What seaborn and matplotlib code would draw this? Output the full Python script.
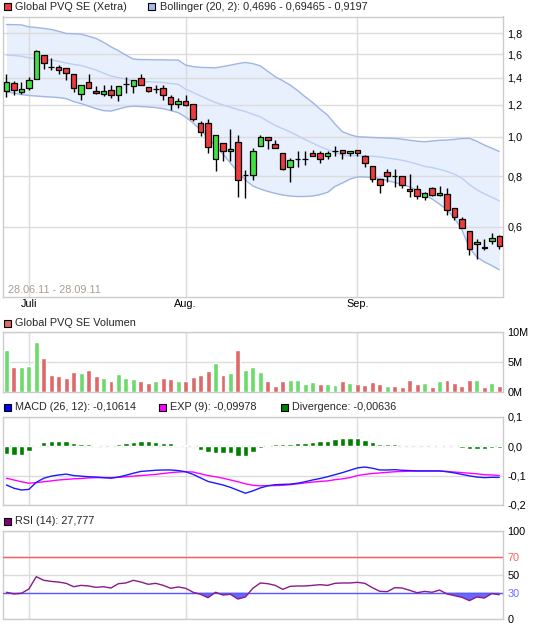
import numpy as np
import matplotlib
matplotlib.use('Agg')
import matplotlib.pyplot as plt
from matplotlib.patches import Rectangle
from matplotlib.ticker import FixedLocator, NullLocator, NullFormatter
import seaborn as sns

# ---- data (28.06.11 - 28.09.11, 67 trading days) ----
opens = [1.295, 1.358, 1.290, 1.317, 1.389, 1.587, 1.488, 1.484, 1.476, 1.429,
         1.276, 1.363, 1.295, 1.276, 1.305, 1.265, 1.347, 1.335, 1.394, 1.324,
         1.309, 1.320, 1.254, 1.207, 1.223, 1.205, 1.081, 1.081, 0.881, 0.965,
         0.922, 0.970, 0.805, 0.804, 0.950, 0.998, 0.959, 0.912, 0.841, 0.881,
         0.881, 0.911, 0.911, 0.897, 0.920, 0.927, 0.911, 0.927, 0.897, 0.849,
         0.786, 0.818, 0.802, 0.799, 0.742, 0.742, 0.712, 0.746, 0.719, 0.721,
         0.668, 0.627, 0.584, 0.543, 0.535, 0.553, 0.569]
highs = [1.426, 1.374, 1.366, 1.405, 1.639, 1.587, 1.566, 1.499, 1.476, 1.429,
         1.339, 1.429, 1.332, 1.345, 1.345, 1.335, 1.405, 1.381, 1.432, 1.324,
         1.339, 1.345, 1.270, 1.247, 1.270, 1.205, 1.091, 1.106, 1.010, 0.965,
         1.045, 1.011, 0.829, 0.938, 1.011, 1.000, 0.983, 0.912, 0.886, 0.923,
         0.923, 0.927, 0.923, 0.923, 0.951, 0.927, 0.923, 0.927, 0.902, 0.849,
         0.786, 0.833, 0.833, 0.799, 0.809, 0.761, 0.732, 0.751, 0.758, 0.746,
         0.668, 0.635, 0.584, 0.558, 0.558, 0.580, 0.572]
lows = [1.254, 1.265, 1.276, 1.307, 1.389, 1.471, 1.459, 1.429, 1.384, 1.290,
        1.235, 1.320, 1.278, 1.263, 1.244, 1.228, 1.283, 1.283, 1.339, 1.287,
        1.283, 1.235, 1.166, 1.178, 1.189, 1.091, 1.007, 0.914, 0.821, 0.872,
        0.869, 0.712, 0.708, 0.780, 0.950, 0.932, 0.938, 0.829, 0.772, 0.841,
        0.852, 0.894, 0.861, 0.881, 0.897, 0.882, 0.897, 0.897, 0.841, 0.775,
        0.726, 0.772, 0.753, 0.746, 0.712, 0.701, 0.698, 0.714, 0.714, 0.640,
        0.623, 0.594, 0.510, 0.498, 0.525, 0.543, 0.529]
closes = [1.366, 1.305, 1.312, 1.378, 1.626, 1.516, 1.488, 1.465, 1.438, 1.320,
          1.339, 1.320, 1.283, 1.300, 1.265, 1.335, 1.347, 1.381, 1.339, 1.298,
          1.309, 1.268, 1.205, 1.223, 1.200, 1.106, 1.027, 0.943, 1.010, 0.923,
          0.932, 0.783, 0.805, 0.922, 0.998, 0.983, 0.938, 0.832, 0.876, 0.881,
          0.881, 0.897, 0.881, 0.911, 0.920, 0.911, 0.922, 0.911, 0.861, 0.786,
          0.762, 0.801, 0.802, 0.761, 0.735, 0.714, 0.728, 0.719, 0.728, 0.661,
          0.635, 0.594, 0.527, 0.551, 0.530, 0.563, 0.539]

boll_upper = [1.892, 1.890, 1.888, 1.867, 1.860, 1.850, 1.839, 1.820, 1.798, 1.795,
              1.791, 1.770, 1.748, 1.710, 1.667, 1.630, 1.590, 1.554, 1.550, 1.550,
              1.548, 1.548, 1.546, 1.546, 1.502, 1.490, 1.483, 1.481, 1.479, 1.490,
              1.502, 1.515, 1.525, 1.515, 1.496, 1.450, 1.406, 1.375, 1.341, 1.300,
              1.255, 1.215, 1.170, 1.131, 1.075, 1.029, 1.012, 1.000, 0.998, 0.996,
              0.994, 0.992, 0.991, 0.986, 0.980, 0.975, 0.972, 0.976, 0.980, 0.981,
              0.985, 0.990, 0.991, 0.975, 0.954, 0.937, 0.9197]
boll_mid = [1.591, 1.586, 1.580, 1.566, 1.560, 1.553, 1.546, 1.535, 1.520, 1.508,
            1.499, 1.480, 1.461, 1.435, 1.412, 1.400, 1.387, 1.372, 1.369, 1.367,
            1.364, 1.361, 1.353, 1.347, 1.310, 1.286, 1.261, 1.237, 1.214, 1.198,
            1.182, 1.167, 1.154, 1.136, 1.120, 1.092, 1.066, 1.047, 1.028, 1.006,
            0.984, 0.965, 0.945, 0.930, 0.915, 0.899, 0.899, 0.898, 0.897, 0.895,
            0.892, 0.886, 0.881, 0.875, 0.866, 0.856, 0.845, 0.839, 0.831, 0.821,
            0.808, 0.790, 0.762, 0.740, 0.723, 0.709, 0.69465]
boll_lower = [1.289, 1.281, 1.271, 1.264, 1.260, 1.256, 1.253, 1.249, 1.242, 1.221,
              1.207, 1.190, 1.173, 1.160, 1.157, 1.170, 1.184, 1.190, 1.187, 1.184,
              1.180, 1.173, 1.160, 1.147, 1.118, 1.081, 1.039, 0.993, 0.949, 0.906,
              0.861, 0.818, 0.782, 0.756, 0.743, 0.733, 0.725, 0.718, 0.714, 0.712,
              0.712, 0.714, 0.720, 0.729, 0.754, 0.769, 0.786, 0.796, 0.796, 0.793,
              0.789, 0.780, 0.771, 0.763, 0.752, 0.737, 0.718, 0.702, 0.682, 0.660,
              0.630, 0.589, 0.532, 0.505, 0.491, 0.481, 0.4696]

volume_m = [7.0, 4.2, 4.2, 4.4, 8.3, 5.7, 2.8, 2.6, 2.3, 3.4,
            3.1, 3.7, 2.6, 2.3, 1.8, 2.9, 2.3, 2.2, 1.8, 1.5,
            1.8, 2.3, 2.2, 1.8, 1.8, 2.5, 2.8, 3.5, 4.8, 2.8,
            3.2, 7.0, 3.7, 4.1, 3.3, 1.8, 1.0, 1.8, 1.9, 1.9,
            1.3, 1.6, 1.3, 1.3, 1.2, 1.8, 1.4, 1.3, 1.1, 1.6,
            1.3, 0.9, 0.9, 0.8, 1.9, 1.3, 1.4, 0.8, 1.8, 1.9,
            1.4, 0.9, 1.9, 1.9, 0.8, 1.4, 0.9]
volume_dir = list("grgggrrrrr" "grrgrgggrr" "grrgrrrrgr" "grgggrrrgg"
                  "ggrggrgrrr" "rgrrrrgrgr" "rrrgrgr")

macd = [-0.132, -0.143, -0.149, -0.147, -0.123, -0.109, -0.102, -0.098, -0.095, -0.100,
        -0.102, -0.104, -0.105, -0.107, -0.109, -0.105, -0.099, -0.092, -0.086, -0.084,
        -0.082, -0.081, -0.081, -0.083, -0.087, -0.096, -0.108, -0.120, -0.126, -0.132,
        -0.140, -0.150, -0.160, -0.152, -0.142, -0.135, -0.131, -0.130, -0.129, -0.126,
        -0.121, -0.115, -0.110, -0.104, -0.097, -0.090, -0.082, -0.074, -0.071, -0.075,
        -0.081, -0.081, -0.080, -0.082, -0.083, -0.084, -0.084, -0.084, -0.084, -0.087,
        -0.091, -0.096, -0.101, -0.105, -0.107, -0.106, -0.10614]
signal = [-0.109, -0.115, -0.121, -0.126, -0.124, -0.121, -0.118, -0.115, -0.113, -0.111,
          -0.110, -0.108, -0.107, -0.107, -0.107, -0.106, -0.104, -0.102, -0.100, -0.098,
          -0.096, -0.093, -0.090, -0.088, -0.087, -0.088, -0.094, -0.100, -0.104, -0.109,
          -0.115, -0.121, -0.128, -0.133, -0.135, -0.134, -0.134, -0.133, -0.131, -0.128,
          -0.125, -0.122, -0.120, -0.118, -0.114, -0.111, -0.107, -0.100, -0.096, -0.093,
          -0.091, -0.089, -0.087, -0.086, -0.085, -0.085, -0.085, -0.085, -0.085, -0.086,
          -0.088, -0.090, -0.092, -0.094, -0.097, -0.098, -0.09978]
divergence = [-0.026, -0.030, -0.030, -0.018, 0.005, 0.015, 0.018, 0.018, 0.018, 0.011,
              0.008, 0.006, 0.003, 0.002, 0.002, 0.007, 0.012, 0.015, 0.018, 0.016,
              0.015, 0.012, 0.009, 0.005, 0.003, 0.002, -0.013, -0.020, -0.024, -0.025,
              -0.025, -0.032, -0.032, -0.020, -0.006, 0.004, 0.007, 0.006, 0.008, 0.010,
              0.012, 0.014, 0.018, 0.018, 0.023, 0.026, 0.026, 0.026, 0.022, 0.015,
              0.008, 0.008, 0.006, 0.002, 0.002, 0.002, 0.002, 0.002, 0.004, 0.002,
              -0.002, -0.006, -0.009, -0.009, -0.009, -0.008, -0.00636]

rsi = [30.5, 28.6, 29.3, 34.2, 48.1, 44.0, 42.8, 42.0, 40.6, 36.8,
       38.3, 37.6, 36.1, 36.8, 35.3, 40.2, 41.0, 44.0, 42.1, 39.5,
       40.6, 38.3, 35.0, 36.5, 35.0, 30.5, 28.2, 24.4, 30.5, 27.4,
       28.2, 22.9, 25.2, 35.0, 41.0, 40.2, 38.3, 33.8, 37.2, 37.6,
       37.6, 38.3, 39.1, 38.3, 40.6, 41.0, 41.0, 41.7, 40.6, 35.7,
       31.6, 31.2, 35.7, 35.3, 32.7, 30.0, 31.5, 30.5, 33.0, 28.6,
       26.7, 24.8, 21.1, 25.2, 24.0, 29.0, 27.777]

month_pos = [3, 24, 47]
month_labels = ['Juli', 'Aug.', 'Sep.']

# ---- style ----
sns.set_style('white')
plt.rcParams['font.family'] = ['Liberation Sans', 'DejaVu Sans']
FS = 7.8
GRID = '#dcdcdc'
FRAME = '#cccccc'
GREEN = '#3fe33f'
RED = '#ee3b3b'

W, H = 545, 629
fig = plt.figure(figsize=(W / 100, H / 100), dpi=100)
idx = np.arange(len(closes))


def add_panel(top, bottom, left=2.7, right=503):
    ax = fig.add_axes([left / W, 1 - bottom / H, (right - left) / W, (bottom - top) / H])
    ax.set_xlim(-0.5, len(closes) - 0.5)
    for s in ax.spines.values():
        s.set_color(FRAME)
        s.set_linewidth(1)
    ax.yaxis.tick_right()
    ax.tick_params(axis='both', length=0, labelsize=FS, colors='black')
    ax.tick_params(axis='y', pad=3)
    return ax


def finish_grid(ax):
    ax.xaxis.set_major_locator(FixedLocator(month_pos))
    ax.set_axisbelow('line')
    ax.grid(True, color=GRID, lw=1)


def legend_item(x, y, color, text):
    fig.add_artist(Rectangle((x / W, 1 - (y + 3.5) / H), 7 / W, 7 / H,
                             transform=fig.transFigure, facecolor=color,
                             edgecolor='black', lw=0.8))
    fig.text((x + 11.5) / W, 1 - y / H, text, fontsize=FS, va='center', ha='left')


def comma(v, nd):
    return f'{v:.{nd}f}'.replace('.', ',')


# ---- price panel ----
ax = add_panel(16.5, 296.7)
ax.set_yscale('log')
ax.set_ylim(0.403, 1.98)
ax.fill_between(idx, boll_lower, boll_upper, color='#e8effd', lw=0, zorder=1)
sns.lineplot(x=idx, y=boll_upper, ax=ax, color='#9fb5e5', lw=1, zorder=2)
sns.lineplot(x=idx, y=boll_lower, ax=ax, color='#9fb5e5', lw=1, zorder=2)
sns.lineplot(x=idx, y=boll_mid, ax=ax, color='#bccff3', lw=1, zorder=2)

o = np.array(opens)
c = np.array(closes)
body_col = np.where(c >= o, GREEN, RED)
ax.vlines(idx, lows, highs, color='black', lw=1, zorder=3)
ax.bar(idx, np.abs(c - o), bottom=np.minimum(o, c), width=0.74, color=body_col,
       edgecolor='black', linewidth=0.9, zorder=4)

yt = [0.6, 0.8, 1.0, 1.2, 1.4, 1.6, 1.8]
ax.yaxis.set_major_locator(FixedLocator(yt))
ax.yaxis.set_minor_locator(NullLocator())
ax.yaxis.set_minor_formatter(NullFormatter())
ax.set_yticklabels([comma(v, 1) for v in yt])
finish_grid(ax)
ax.set_xticklabels(month_labels)
ax.tick_params(axis='x', pad=2)
ax.set_xlabel('')
ax.set_ylabel('')
fig.text(7.5 / W, 1 - 290 / H, '28.06.11 - 28.09.11', fontsize=FS,
         color='#a89e90', va='center', ha='left')

legend_item(3.5, 6.5, RED, 'Global PVQ SE (Xetra)')
legend_item(148, 6.5, '#a6bbe8', 'Bollinger (20, 2): 0,4696 - 0,69465 - 0,9197')

# ---- volume panel ----
axv = add_panel(332.3, 391.7)
sns.barplot(x=idx, y=volume_m, hue=volume_dir, palette={'g': '#6bdb6b', 'r': '#de6969'},
            dodge=False, legend=False, width=0.66, saturation=1, ax=axv, zorder=3)
axv.set_xlim(-0.5, len(closes) - 0.5)
axv.set_ylim(0, 10)
axv.yaxis.set_major_locator(FixedLocator([0, 5, 10]))
axv.set_yticklabels(['0M', '5M', '10M'])
finish_grid(axv)
axv.set_xticklabels([])
axv.set_xlabel('')
axv.set_ylabel('')
legend_item(3.5, 323, '#de6969', 'Global PVQ SE Volumen')

# ---- MACD panel ----
axm = add_panel(416.7, 505)
sns.barplot(x=idx, y=divergence, color='#008000', width=0.72, saturation=1, ax=axm, zorder=3)
sns.lineplot(x=idx, y=signal, ax=axm, color='#ff00ff', lw=1, zorder=4)
sns.lineplot(x=idx, y=macd, ax=axm, color='#1a1aff', lw=1, zorder=5)
axm.set_xlim(-0.5, len(closes) - 0.5)
axm.set_ylim(-0.2, 0.1)
mt = [-0.2, -0.1, 0.0, 0.1]
axm.yaxis.set_major_locator(FixedLocator(mt))
axm.set_yticklabels([comma(v, 1) for v in mt])
finish_grid(axm)
axm.set_xticklabels([])
axm.set_xlabel('')
axm.set_ylabel('')
legend_item(3.5, 407.5, '#0000ff', 'MACD (26, 12): -0,10614')
legend_item(158.5, 407.5, '#ff00ff', 'EXP (9): -0,09978')
legend_item(280.5, 407.5, '#008000', 'Divergence: -0,00636')

# ---- RSI panel ----
axr = add_panel(530.7, 619.3)
rsi_arr = np.array(rsi)
axr.fill_between(idx, rsi_arr, 30, where=rsi_arr < 30, interpolate=True,
                 color='#6868ff', lw=0, zorder=2)
axr.axhline(70, color='#ff5a5a', lw=1, zorder=3)
axr.axhline(30, color='#5a5aff', lw=1, zorder=3)
sns.lineplot(x=idx, y=rsi, ax=axr, color='#8b1a8b', lw=1, zorder=4)
axr.set_ylim(0, 100)
rt = [0, 30, 50, 70, 100]
axr.yaxis.set_major_locator(FixedLocator(rt))
axr.set_yticklabels([str(v) for v in rt])
for lab, v in zip(axr.get_yticklabels(), rt):
    if v == 70:
        lab.set_color('#ff6060')
    elif v == 30:
        lab.set_color('#7070ff')
finish_grid(axr)
axr.set_xticklabels([])
axr.set_xlabel('')
axr.set_ylabel('')
legend_item(3.5, 521, '#800080', 'RSI (14): 27,777')

fig.savefig('out.png', dpi=100)
